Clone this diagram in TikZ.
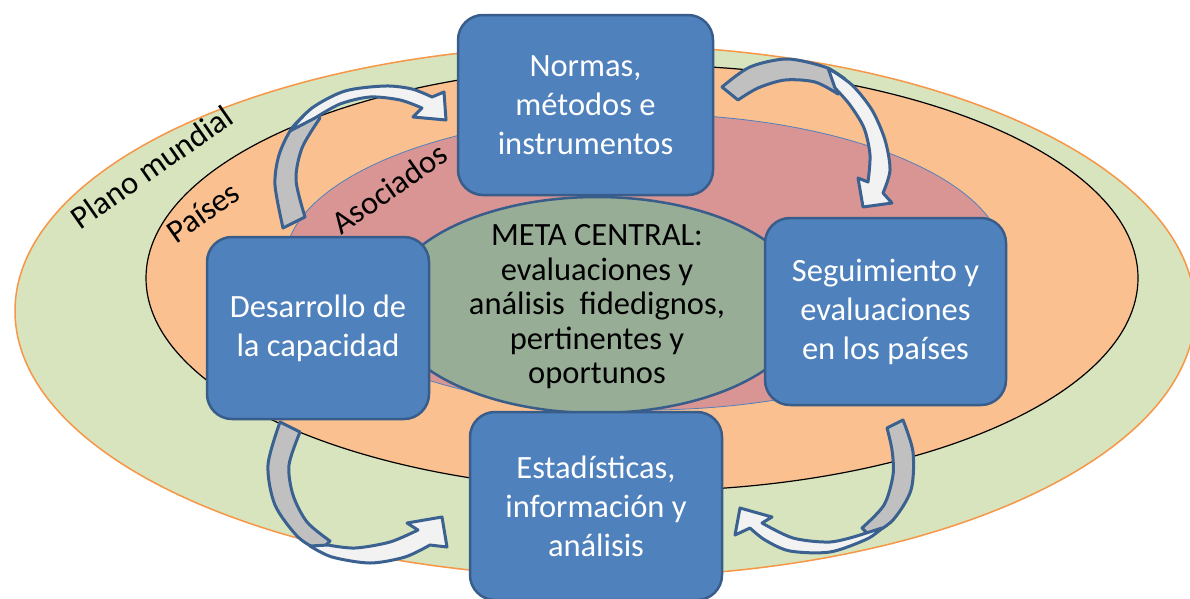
\documentclass[tikz,border=0pt]{standalone}
\usepackage{fontspec}
\setmainfont{Carlito}
\usetikzlibrary{shapes.geometric}
\definecolor{boxfill}{HTML}{4F81BD}
\definecolor{boxline}{HTML}{385D8A}
\definecolor{worldfill}{HTML}{D7E4BD}
\definecolor{worldline}{HTML}{F79646}
\definecolor{countryfill}{HTML}{FAC090}
\definecolor{partnerfill}{HTML}{D99594}
\definecolor{goalfill}{HTML}{97AD96}
\definecolor{arrowline}{HTML}{3A6190}
\definecolor{arrowgray}{HTML}{C0C0C0}
\definecolor{arrowwhite}{HTML}{F2F2F2}
\begin{document}
\begin{tikzpicture}[x=1pt,y=-1pt,
  stagebox/.style={draw=boxline, line width=2.5pt, fill=boxfill, rounded corners=25pt,
    text=white, align=center, font=\fontsize{32.5}{39}\selectfont, inner sep=0pt},
  ring/.style={ellipse, inner sep=0pt},
  ringlabel/.style={font=\fontsize{32.5}{37}\selectfont, rotate=35, inner sep=0pt},
  backpart/.style={fill=arrowgray, draw=arrowline, line width=3pt, line join=round},
  frontpart/.style={fill=arrowwhite, draw=arrowline, line width=3pt, line join=round}]

\useasboundingbox (0,0) rectangle (1190,598);

% nested ellipses
\node[ring, draw=worldline, line width=1.5pt, fill=worldfill,
  minimum width=1180pt, minimum height=532pt] (mundial) at (605,311) {};
\node[ring, draw=black, line width=1.2pt, fill=countryfill,
  minimum width=992pt, minimum height=426pt] (paises) at (642,278) {};
\node[ring, draw=boxfill, line width=0.8pt, fill=partnerfill,
  minimum width=720pt, minimum height=296pt] (asociados) at (645,262) {};
\node[ring, draw=boxline, line width=2.5pt, fill=goalfill,
  minimum width=420pt, minimum height=216pt] (meta) at (597,305) {};
\node[align=center, font=\fontsize{32.5}{34.5}\selectfont, inner sep=0pt] (metatext) at (597,307)
  {META CENTRAL:\\evaluaciones y\\análisis\ \ fidedignos,\\pertinentes y\\oportunos};

% ring labels
\node[ringlabel] (lblmundial) at (152,167) {Plano mundial};
\node[ringlabel] (lblpaises) at (203,212) {Países};
\node[ringlabel] (lblasoc) at (389,188) {Asociados};

% curved arrow: top-left
\draw[backpart] plot[smooth] coordinates {(283,228) (275,185) (279,155) (292,128) (312,108)}
  -- plot[smooth] coordinates {(320,118) (302,148) (296,180) (305,217)} -- cycle;
\draw[frontpart] plot[smooth] coordinates {(290,131) (312,108) (345,91) (385,86) (412,89) (432,97)}
  -- (444,92) -- (446,120) -- (413,117)
  -- plot[smooth] coordinates {(422,108) (400,100) (370,97) (340,104) (315,118)} -- cycle;

% curved arrow: top-right
\draw[backpart] plot[smooth] coordinates {(722,87) (750,67) (787,59) (825,67) (845,79)}
  -- plot[smooth] coordinates {(838,94) (815,82) (785,80) (758,88) (738,100)} -- cycle;
\draw[frontpart] plot[smooth] coordinates {(828,68) (852,85) (872,110) (885,140) (890,170) (883,193)}
  -- (892,203) -- (863,207) -- (858,178)
  -- plot[smooth] coordinates {(868,182) (870,155) (864,128) (850,105) (835,88)} -- cycle;

% curved arrow: bottom-left
\draw[backpart] plot[smooth] coordinates {(280,422) (268,465) (275,505) (298,537) (320,551)}
  -- plot[smooth] coordinates {(330,541) (307,522) (293,495) (289,465) (300,432)} -- cycle;
\draw[frontpart] plot[smooth] coordinates {(310,546) (332,557) (370,563) (405,557) (430,545)}
  -- (447,547) -- (442,517) -- (407,523)
  -- plot[smooth] coordinates {(418,530) (390,542) (355,548) (328,545)} -- cycle;

% curved arrow: bottom-right
\draw[backpart] plot[smooth] coordinates {(903,420) (913,452) (911,490) (893,520) (870,536)}
  -- plot[smooth] coordinates {(862,528) (884,505) (893,475) (892,450) (887,428)} -- cycle;
\draw[frontpart] plot[smooth] coordinates {(882,528) (867,539) (830,552) (790,551) (765,540) (750,528)}
  -- (735,535) -- (740,508) -- (772,517)
  -- plot[smooth] coordinates {(762,523) (793,538) (830,542) (860,535)} -- cycle;

% stage boxes
\node[stagebox, minimum width=255pt, minimum height=180pt] (normas) at (585.5,105)
  {Normas,\\métodos e\\instrumentos};
\node[stagebox, minimum width=241pt, minimum height=187pt] (seguimiento) at (885.5,311.5)
  {Seguimiento y\\evaluaciones\\en los países};
\node[stagebox, minimum width=252pt, minimum height=188pt] (estadisticas) at (596,506)
  {Estadísticas,\\información y\\análisis};
\node[stagebox, minimum width=222pt, minimum height=182pt] (desarrollo) at (318,328)
  {Desarrollo de\\la capacidad};
\end{tikzpicture}
\end{document}
